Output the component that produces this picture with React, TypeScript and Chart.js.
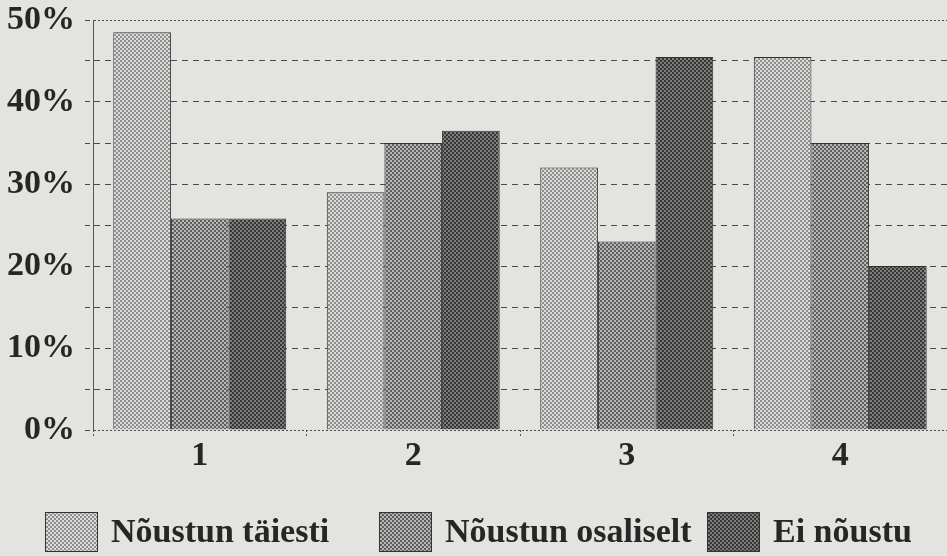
import React, { useEffect, useRef } from "react";
import { Chart, registerables } from "chart.js";

Chart.register(...registerables);

const categories = ["1", "2", "3", "4"];
const seriesNames = ["Nõustun täiesti", "Nõustun osaliselt", "Ei nõustu"];
const fullyAgree = [48.5, 29, 32, 45.5];
const partlyAgree = [25.8, 35, 23, 35];
const disagree = [25.8, 36.5, 45.5, 20];
const yTicks = [0, 10, 20, 30, 40, 50];

const FONT = "'Liberation Serif', 'Times New Roman', serif";
const TEXT = "#262626";
const BG = "#e3e3df";

// legend layout (pixel positions of each legend item start)
const legendItemX = [45, 379, 707];
const legendBoxTop = 512;
const legendBoxW = 53;
const legendBoxH = 40;
const legendBaseline = 542;

function makePattern(bg: string, dot: string): CanvasPattern | string {
  const c = document.createElement("canvas");
  c.width = 4;
  c.height = 4;
  const x = c.getContext("2d");
  if (!x) return bg;
  x.fillStyle = bg;
  x.fillRect(0, 0, 4, 4);
  x.fillStyle = dot;
  x.fillRect(0, 0, 2, 2);
  x.fillRect(2, 2, 2, 2);
  const p = x.createPattern(c, "repeat");
  return p || bg;
}

const customLegend = {
  id: "customLegend",
  afterDraw(chart: any) {
    const ctx = chart.ctx as CanvasRenderingContext2D;
    ctx.save();
    ctx.font = `bold 34px ${FONT}`;
    ctx.textBaseline = "alphabetic";
    ctx.textAlign = "left";
    chart.data.datasets.forEach((ds: any, i: number) => {
      const x0 = legendItemX[i];
      ctx.fillStyle = ds.backgroundColor;
      ctx.fillRect(x0, legendBoxTop, legendBoxW, legendBoxH);
      ctx.strokeStyle = "#333333";
      ctx.lineWidth = 1;
      ctx.strokeRect(x0 + 0.5, legendBoxTop + 0.5, legendBoxW - 1, legendBoxH - 1);
      ctx.fillStyle = TEXT;
      ctx.fillText(ds.label, x0 + legendBoxW + 13, legendBaseline);
    });
    ctx.restore();
  },
};

export default function App() {
  const ref = useRef<HTMLCanvasElement | null>(null);

  useEffect(() => {
    if (!ref.current) return;
    const light = makePattern("#dcdcda", "#8e8e8e");
    const mid = makePattern("#b6b6b4", "#5e5e5e");
    const dark = makePattern("#7c7c7c", "#363636");
    const series = [fullyAgree, partlyAgree, disagree];
    const fills = [light, mid, dark];

    const chart = new Chart(ref.current, {
      type: "bar",
      data: {
        labels: categories,
        datasets: series.map((d, i) => ({
          label: seriesNames[i],
          data: d,
          backgroundColor: fills[i] as any,
          borderColor: "#333333",
          borderWidth: 1,
          categoryPercentage: 0.81,
          barPercentage: 1,
        })),
      },
      plugins: [customLegend],
      options: {
        animation: false,
        responsive: true,
        maintainAspectRatio: false,
        layout: { padding: { top: 20, right: 0, left: 0, bottom: 66 } },
        plugins: {
          tooltip: { enabled: false },
          legend: { display: false },
        },
        scales: {
          x: {
            offset: true,
            grid: {
              offset: true,
              drawOnChartArea: false,
              drawTicks: true,
              tickLength: 8,
              tickColor: "#555",
              tickBorderDash: [2, 2],
            },
            border: { display: false },
            ticks: {
              color: TEXT,
              padding: -2,
              font: { family: FONT, size: 34, weight: "bold" },
            },
            afterFit: (s: any) => {
              s.height = 60;
            },
          },
          y: {
            min: 0,
            max: 50,
            ticks: {
              stepSize: 5,
              autoSkip: false,
              padding: 10,
              color: TEXT,
              font: { family: FONT, size: 34, weight: "bold" },
              callback: (v: any) => (yTicks.includes(Number(v)) ? v + "%" : ""),
            },
            grid: {
              color: "#4a4a4a",
              lineWidth: 1,
              tickLength: 8,
              tickColor: "#4a4a4a",
              tickBorderDash: [5, 4],
            },
            border: {
              display: true,
              color: "#555",
              width: 1,
              dash: (ctx: any) =>
                ctx.tick && (ctx.tick.value === 0 || ctx.tick.value === 50) ? [2, 2] : [6, 5],
            } as any,
            afterFit: (s: any) => {
              s.width = 93;
              s.paddingTop = 0;
              s.paddingBottom = 0;
            },
          },
        },
      },
    });
    return () => chart.destroy();
  }, []);

  return (
    <div
      style={{
        position: "absolute",
        left: 0,
        top: 0,
        width: 947,
        height: 556,
        background: BG,
      }}
    >
      <canvas ref={ref} />
    </div>
  );
}
